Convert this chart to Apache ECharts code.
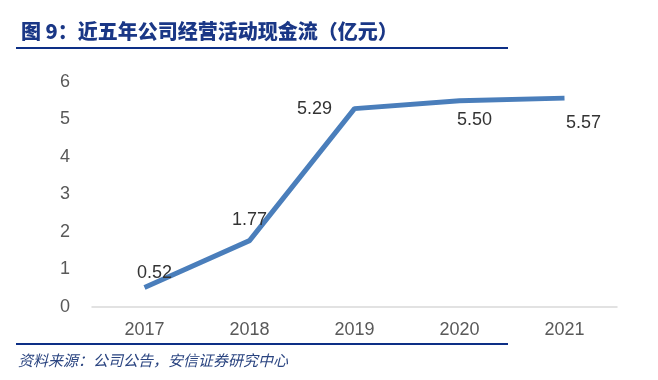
<!DOCTYPE html>
<html><head><meta charset="utf-8">
<script src="https://cdn.jsdelivr.net/npm/echarts@6/dist/echarts.min.js"></script>
<style>html,body{margin:0;padding:0;background:#fff}#c{width:658px;height:380px}</style>
</head><body><div id="c"></div>
<script>
var categories = ['2017', '2018', '2019', '2020', '2021'];
var values = [0.52, 1.77, 5.29, 5.50, 5.57];
var labelOffsets = [[10, 0], [0, -6], [-40, 15], [15, 34], [19, 39]];

var chart = echarts.init(document.getElementById('c'));
chart.setOption({
  animation: false,
  title: {
    text: '图 9：近五年公司经营活动现金流（亿元）',
    left: 16, top: 16,
    textStyle: { color: '#1a3786', fontSize: 20, fontWeight: 900, fontFamily: 'Noto Sans CJK SC' }
  },
  graphic: [
    { type: 'line', shape: { x1: 16, y1: 48, x2: 508, y2: 48 }, style: { stroke: '#0d2f86', lineWidth: 2 } },
    { type: 'line', shape: { x1: 16, y1: 344, x2: 508, y2: 344 }, style: { stroke: '#0d2f86', lineWidth: 2 } },
    { type: 'text', left: 18, top: 353, style: { text: '资料来源：公司公告，安信证券研究中心', fill: '#2a4480', font: 'italic 15px "Noto Sans CJK SC"' } }
  ],
  grid: { left: 92, right: 41, top: 82, bottom: 73 },
  xAxis: {
    type: 'category', data: categories, boundaryGap: true,
    axisLine: { lineStyle: { color: '#d9d9d9', width: 1.5 } },
    axisTick: { show: false },
    axisLabel: { color: '#595959', fontSize: 18, margin: 14, fontFamily: 'Liberation Sans' }
  },
  yAxis: {
    type: 'value', min: 0, max: 6, interval: 1,
    axisLine: { show: false }, axisTick: { show: false }, splitLine: { show: false },
    axisLabel: { color: '#595959', fontSize: 18, margin: 22, fontFamily: 'Liberation Sans' }
  },
  series: [{
    type: 'line', data: values.map(function (v, i) {
      return { value: v, label: { offset: labelOffsets[i] } };
    }),
    symbol: 'circle', symbolSize: 1, showSymbol: true,
    itemStyle: { color: 'rgba(0,0,0,0)' },
    lineStyle: { color: '#4a7ebb', width: 5 },
    label: {
      show: true, position: 'top', color: '#333', fontSize: 18, fontFamily: 'Liberation Sans',
      formatter: function (p) { return p.value.toFixed(2); }
    }
  }]
});
</script></body></html>
